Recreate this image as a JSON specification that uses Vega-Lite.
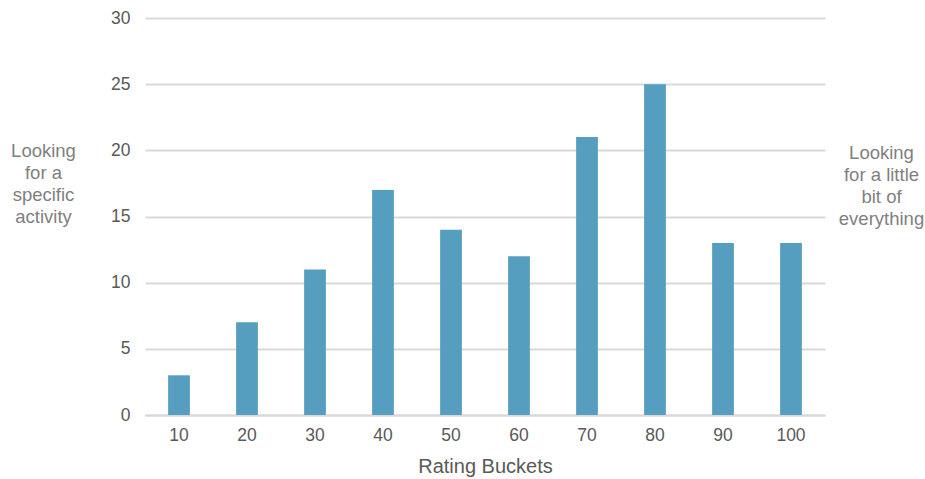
{
  "$schema": "https://vega.github.io/schema/vega-lite/v6.json",
  "autosize": "none",
  "width": 680,
  "height": 397,
  "padding": {"left": 145, "top": 18, "right": 100, "bottom": 64},
  "background": "white",
  "config": {
    "view": {"stroke": null},
    "font": "Liberation Sans",
    "axis": {"labelFont": "Liberation Sans", "titleFont": "Liberation Sans"}
  },
  "data": {
    "values": [
      {"bucket": "10", "count": 3},
      {"bucket": "20", "count": 7},
      {"bucket": "30", "count": 11},
      {"bucket": "40", "count": 17},
      {"bucket": "50", "count": 14},
      {"bucket": "60", "count": 12},
      {"bucket": "70", "count": 21},
      {"bucket": "80", "count": 25},
      {"bucket": "90", "count": 13},
      {"bucket": "100", "count": 13}
    ]
  },
  "encoding": {
    "x": {
      "field": "bucket",
      "type": "ordinal",
      "sort": null,
      "scale": {"paddingInner": 0.68, "paddingOuter": 0.34},
      "axis": {
        "title": "Rating Buckets",
        "titleFontSize": 20,
        "titleFontWeight": "normal",
        "titleColor": "#595959",
        "titleBaseline": "alphabetic",
        "titleY": 57,
        "labelAngle": 0,
        "labelFontSize": 17.5,
        "labelColor": "#595959",
        "labelPadding": 11,
        "ticks": false,
        "domainColor": "#d9d9d9",
        "domainWidth": 2,
        "grid": false
      }
    }
  },
  "layer": [
    {
      "mark": {"type": "bar", "color": "#569EC0"},
      "encoding": {
        "y": {
          "field": "count",
          "type": "quantitative",
          "scale": {"domain": [0, 30]},
          "axis": {
            "values": [0, 5, 10, 15, 20, 25, 30],
            "title": ["Looking", "for a", "specific", "activity"],
            "titleAngle": 0,
            "titleFontSize": 18.5,
            "titleFontWeight": "normal",
            "titleColor": "#7f7f7f",
            "titleAlign": "center",
            "titleBaseline": "alphabetic",
            "titleLineHeight": 22,
            "titleX": -102,
            "titleY": 138,
            "labelFontSize": 17.5,
            "labelColor": "#595959",
            "labelPadding": 15,
            "ticks": false,
            "domain": false,
            "gridColor": "#d9d9d9",
            "gridWidth": 2
          }
        }
      }
    },
    {
      "mark": {"type": "bar", "opacity": 0},
      "encoding": {
        "y": {
          "field": "count",
          "type": "quantitative",
          "scale": {"domain": [0, 30]},
          "axis": {
            "orient": "right",
            "labels": false,
            "ticks": false,
            "domain": false,
            "grid": false,
            "title": ["Looking", "for a little", "bit of", "everything"],
            "titleAngle": 0,
            "titleFontSize": 18.5,
            "titleFontWeight": "normal",
            "titleColor": "#7f7f7f",
            "titleAlign": "center",
            "titleBaseline": "alphabetic",
            "titleLineHeight": 22,
            "titleX": 56,
            "titleY": 140
          }
        }
      }
    }
  ],
  "resolve": {"axis": {"y": "independent"}}
}
